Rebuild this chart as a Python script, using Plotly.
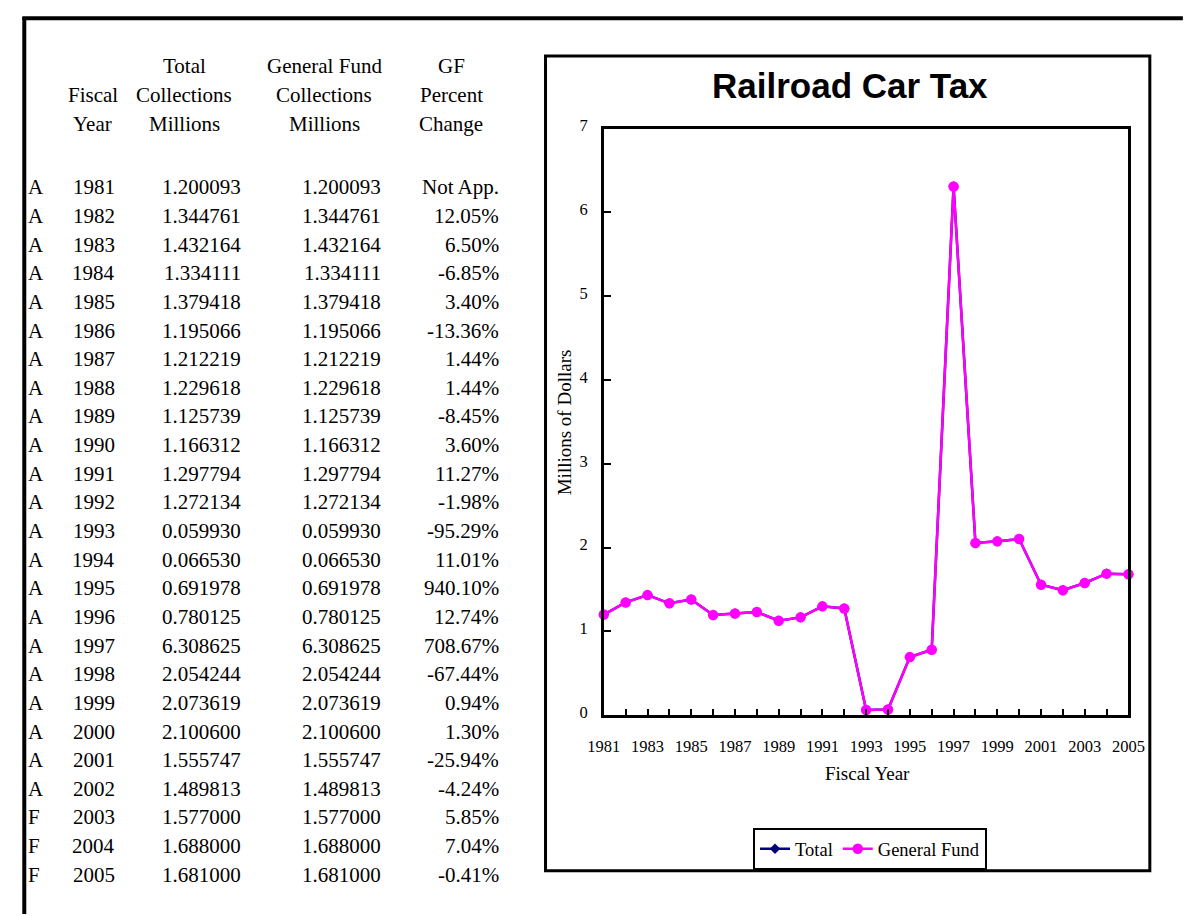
import plotly.graph_objects as go

W, H = 1195, 916

# ---- data -------------------------------------------------------------
status = ["A"] * 22 + ["F"] * 3
years = list(range(1981, 2006))
total_collections = [1.200093, 1.344761, 1.432164, 1.334111, 1.379418, 1.195066,
                     1.212219, 1.229618, 1.125739, 1.166312, 1.297794, 1.272134,
                     0.059930, 0.066530, 0.691978, 0.780125, 6.308625, 2.054244,
                     2.073619, 2.100600, 1.555747, 1.489813, 1.577000, 1.688000,
                     1.681000]
gf_collections = [1.200093, 1.344761, 1.432164, 1.334111, 1.379418, 1.195066,
                  1.212219, 1.229618, 1.125739, 1.166312, 1.297794, 1.272134,
                  0.059930, 0.066530, 0.691978, 0.780125, 6.308625, 2.054244,
                  2.073619, 2.100600, 1.555747, 1.489813, 1.577000, 1.688000,
                  1.681000]
gf_pct_change = ["Not App.", "12.05%", "6.50%", "-6.85%", "3.40%", "-13.36%",
                 "1.44%", "1.44%", "-8.45%", "3.60%", "11.27%", "-1.98%",
                 "-95.29%", "11.01%", "940.10%", "12.74%", "708.67%", "-67.44%",
                 "0.94%", "1.30%", "-25.94%", "-4.24%", "5.85%", "7.04%", "-0.41%"]
col_headers = [
    ["", "Fiscal", "Year"],
    ["Total", "Collections", "Millions"],
    ["General Fund", "Collections", "Millions"],
    ["GF", "Percent", "Change"],
]

SERIF = "Liberation Serif"
SANS = "Liberation Sans"


def px(x):
    return x / W


def py(y):
    return 1 - y / H


fig = go.Figure()

fig.add_trace(go.Scatter(
    x=years, y=total_collections, name="Total", mode="lines+markers",
    line=dict(color="#000080", width=2.5),
    marker=dict(symbol="diamond", size=8, color="#000080"),
    cliponaxis=False,
))
fig.add_trace(go.Scatter(
    x=years, y=gf_collections, name="General Fund", mode="lines+markers",
    line=dict(color="#FF00FF", width=2.5),
    marker=dict(symbol="circle", size=10.5, color="#FF00FF"),
    cliponaxis=False,
))

annotations = []

# ---- table on the left --------------------------------------------------
header_y = [55, 85, 114]
header_x = [78, 172, 316, 447]
for cx, lines in zip(header_x, col_headers):
    for ly, txt in zip(header_y, lines):
        if txt:
            annotations.append(dict(
                x=px(cx), y=py(ly), xref="paper", yref="paper", text=txt,
                showarrow=False, xanchor="center", yanchor="middle",
                font=dict(family=SERIF, size=21, color="black")))

row0, row_h = 179, 29.25
for i in range(len(years)):
    ry = py(row0 + i * row_h)
    cells = [
        (status[i], 9, "left"),
        (str(years[i]), 79, "center"),
        (f"{total_collections[i]:.6f}", 233, "right"),
        (f"{gf_collections[i]:.6f}", 377, "right"),
        (gf_pct_change[i], 498, "right"),
    ]
    for txt, cx, anc in cells:
        annotations.append(dict(
            x=px(cx), y=ry, xref="paper", yref="paper", text=txt,
            showarrow=False, xanchor=anc, yanchor="middle",
            font=dict(family=SERIF, size=21, color="black")))

# ---- chart titles -------------------------------------------------------
annotations.append(dict(
    x=px(857), y=py(75), xref="paper", yref="paper", text="<b>Railroad Car Tax</b>",
    showarrow=False, xanchor="center", yanchor="middle",
    font=dict(family=SANS, size=35, color="black")))
annotations.append(dict(
    x=px(875), y=py(778), xref="paper", yref="paper", text="Fiscal Year",
    showarrow=False, xanchor="center", yanchor="middle",
    font=dict(family=SERIF, size=19, color="black")))
annotations.append(dict(
    x=px(563), y=py(419), xref="paper", yref="paper", text="Millions of Dollars",
    showarrow=False, xanchor="center", yanchor="middle", textangle=-90,
    font=dict(family=SERIF, size=19, color="black")))

shapes = [
    # outer frame (top and left edges)
    dict(type="line", xref="paper", yref="paper", x0=px(7.5), x1=px(7.5),
         y0=py(5), y1=py(H + 5), line=dict(color="black", width=4)),
    dict(type="line", xref="paper", yref="paper", x0=px(5.5), x1=px(W + 5),
         y0=py(6.5), y1=py(6.5), line=dict(color="black", width=4)),
    # chart frame
    dict(type="rect", xref="paper", yref="paper", x0=px(544), x1=px(1166),
         y0=py(45), y1=py(877), line=dict(color="black", width=3)),
]

axis_font = dict(family=SERIF, size=16.5, color="black")

fig.update_layout(
    width=W, height=H,
    margin=dict(l=0, r=0, t=0, b=0),
    paper_bgcolor="white", plot_bgcolor="white",
    showlegend=True,
    legend=dict(
        orientation="h", x=px(878), y=py(855), xanchor="center", yanchor="middle",
        bordercolor="black", borderwidth=2, bgcolor="white",
        font=dict(family=SERIF, size=18.5, color="black"),
        itemclick=False, itemdoubleclick=False,
    ),
    xaxis=dict(
        domain=[px(604), px(1144)], range=[1981, 2005],
        tickmode="linear", tick0=1981, dtick=2,
        ticks="inside", ticklen=6, tickwidth=2, tickcolor="black",
        minor=dict(tick0=1981, dtick=1, ticks="inside", ticklen=6,
                   tickwidth=2, tickcolor="black", showgrid=False),
        showgrid=False, zeroline=False,
        showline=True, linewidth=2.5, linecolor="black", mirror=True,
        tickfont=axis_font, ticklabelstandoff=14,
    ),
    yaxis=dict(
        domain=[py(718), py(119)], range=[0, 7],
        tickmode="linear", tick0=0, dtick=1,
        ticks="inside", ticklen=7, tickwidth=2, tickcolor="black",
        showgrid=False, zeroline=False,
        showline=True, linewidth=2.5, linecolor="black", mirror=True,
        tickfont=axis_font, ticklabelstandoff=10, ticklabelshift=-3,
    ),
    annotations=annotations,
    shapes=shapes,
)

fig.write_html(
    "out.html",
    config={"displayModeBar": False},
    post_script="document.body.style.margin='0';document.body.style.overflow='hidden';",
)
